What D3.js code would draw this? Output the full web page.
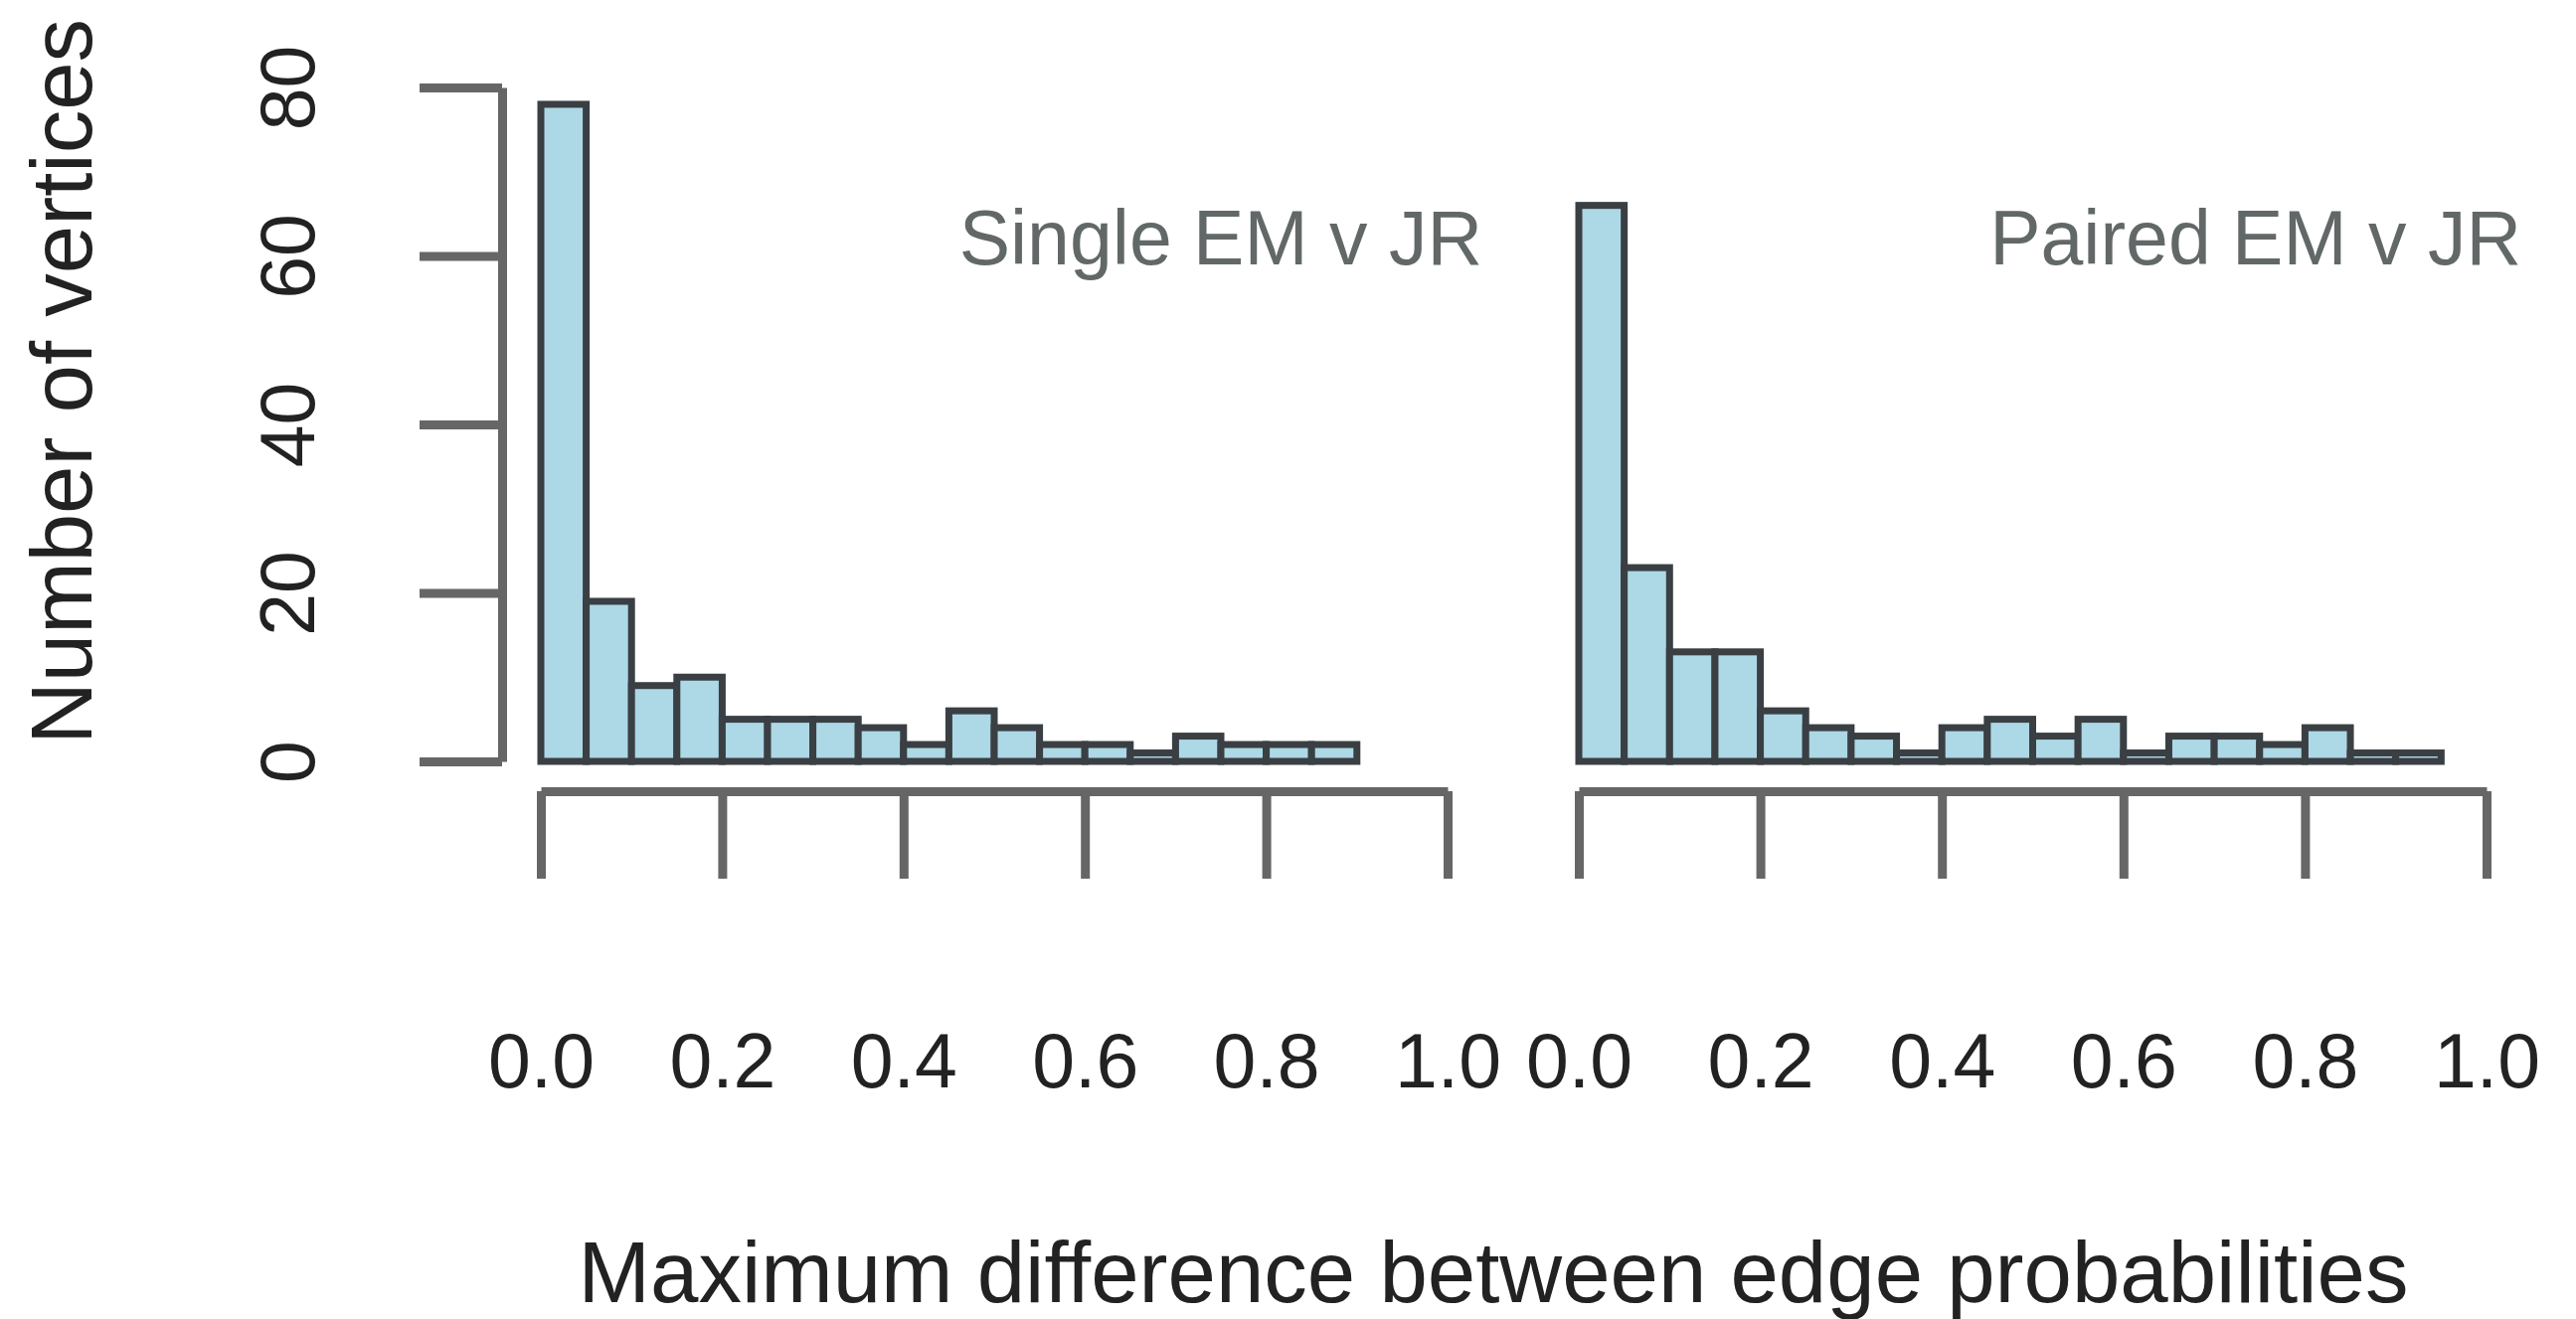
<!DOCTYPE html>
<html lang="en">
<head>
<meta charset="UTF-8">
<title>Maximum difference between edge probabilities</title>
<script src="https://d3js.org/d3.v7.min.js"></script>
<style>
    body { margin: 0; background: #fff; }
    svg { display: block; }
    .axis path, .axis line { stroke: #666; stroke-width: 9; }
    .axis text { fill: #222; }
    .bar { fill: #add8e6; stroke: #3a3f43; stroke-width: 7; }
    .panel-title { fill: #626868; }
</style>
</head>
<body>
<div id="chart"></div>
<script>
    // histogram bins (left edges), width 0.05
    const binStarts = [0.00, 0.05, 0.10, 0.15, 0.20, 0.25, 0.30, 0.35, 0.40, 0.45,
                       0.50, 0.55, 0.60, 0.65, 0.70, 0.75, 0.80, 0.85, 0.90];
    const binWidth = 0.05;

    // counts
    const singleCounts = [78, 19, 9, 10, 5, 5, 5, 4, 2, 6, 4, 2, 2, 1, 3, 2, 2, 2];
    const pairedCounts = [66, 23, 13, 13, 6, 4, 3, 1, 4, 5, 3, 5, 1, 3, 3, 2, 4, 1, 1];

    const xTicks = [0, 0.2, 0.4, 0.6, 0.8, 1.0];
    const yTicks = [0, 20, 40, 60, 80];
    const panelTitles = ['Single EM v JR', 'Paired EM v JR'];
    const xLabel = 'Maximum difference between edge probabilities';
    const yLabel = 'Number of vertices';

    const W = 2591, H = 1327;
    const font = '"Liberation Sans", Arial, Helvetica, sans-serif';

    const svg = d3.select('#chart').append('svg')
        .attr('width', W)
        .attr('height', H)
        .style('font-family', font);

    const y = d3.scaleLinear().domain([0, 80]).range([766, 88]);

    const panels = [
        { title: panelTitles[0], counts: singleCounts, range: [544, 1456] },
        { title: panelTitles[1], counts: pairedCounts, range: [1588, 2501] }
    ];

    panels.forEach((p, k) => {
        const x = d3.scaleLinear().domain([0, 1]).range(p.range);
        const g = svg.append('g');

        // bars
        g.selectAll('.bar')
            .data(p.counts)
            .join('rect')
            .attr('class', 'bar')
            .attr('x', (d, i) => x(binStarts[i]))
            .attr('width', (d, i) => x(binStarts[i] + binWidth) - x(binStarts[i]))
            .attr('y', d => y(d))
            .attr('height', d => y(0) - y(d));

        // x axis
        const xa = g.append('g')
            .attr('class', 'axis')
            .attr('transform', 'translate(0,796)')
            .call(d3.axisBottom(x).tickValues(xTicks).tickSize(88).tickSizeOuter(0)
                .tickFormat(d3.format('.1f')))
            .attr('font-size', 77)
            .attr('font-family', font);
        xa.selectAll('text').attr('y', 298).attr('dy', 0);

        // panel title
        g.append('text')
            .attr('class', 'panel-title')
            .attr('x', x(1) + 35)
            .attr('y', 266)
            .attr('text-anchor', 'end')
            .attr('font-size', 77)
            .text(p.title);
    });

    // y axis (left panel only)
    const ya = svg.append('g')
        .attr('class', 'axis')
        .attr('transform', 'translate(505,0)')
        .call(d3.axisLeft(y).tickValues(yTicks).tickSize(83).tickSizeOuter(0))
        .attr('font-size', 77)
        .attr('font-family', font);
    ya.selectAll('text')
        .attr('x', 0)
        .attr('y', -189)
        .attr('dy', 0)
        .attr('transform', 'rotate(-90)')
        .attr('text-anchor', 'middle');

    // axis titles
    svg.append('text')
        .attr('x', 1502)
        .attr('y', 1310)
        .attr('text-anchor', 'middle')
        .attr('font-size', 87)
        .attr('fill', '#222')
        .text(xLabel);

    svg.append('text')
        .attr('transform', 'translate(92,384) rotate(-90)')
        .attr('text-anchor', 'middle')
        .attr('font-size', 87)
        .attr('fill', '#222')
        .text(yLabel);
</script>
</body>
</html>
